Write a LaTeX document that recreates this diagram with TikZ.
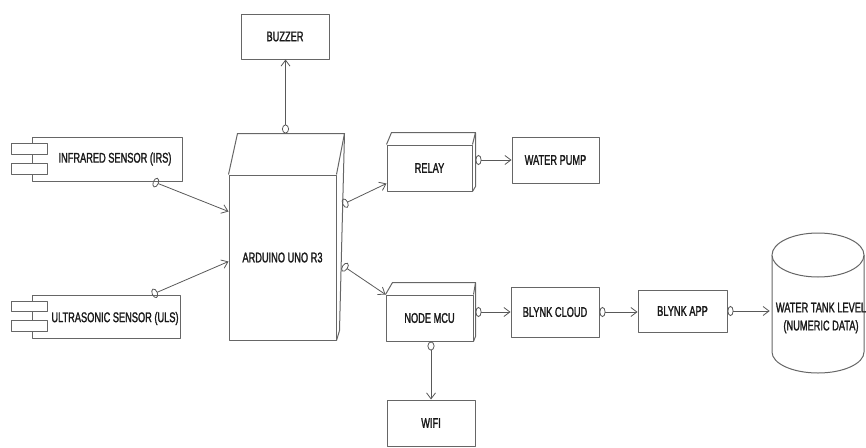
\documentclass[tikz,border=0pt]{standalone}
\usepackage{fontspec}
\setmainfont{Liberation Sans}[FakeStretch=0.66, FakeBold=1.5]
\usetikzlibrary{arrows.meta,calc}

\begin{document}
\begin{tikzpicture}[
    x=1pt, y=-1pt,
    line join=round,
    font=\fontsize{14}{18}\selectfont,
    % boxes and their extra faces
    box/.style={draw=black!60, line width=1pt, fill=white, inner sep=0pt, text=black!90},
    boxline/.style={draw=black!60, line width=1pt},
    lbl/.style={inner sep=0pt, text=black!90, align=center},
    % connectors with a lollipop at the start
    wire/.style={draw=black!65, line width=0.8pt},
    lolli/.style={wire, {Ellipse[open, length=6pt, width=10pt]}-{Straight Barb[length=6pt, width=9pt]}},
    lollivert/.style={wire, {Ellipse[open, length=9pt, width=7pt]}-{Straight Barb[length=6pt, width=9pt]}}
]

% ---------------------------------------------------------
% FRAME (pixel grid of the reference, y pointing down)
% ---------------------------------------------------------
\path [use as bounding box] (0,0) rectangle (866,447);

% ---------------------------------------------------------
% 1. SENSORS (component boxes)
% ---------------------------------------------------------
\node[box, minimum width=150pt, minimum height=44pt] (irs) at (107,159) {};
\node[lbl] (irstext) at ([xshift=8pt]irs.center) {INFRARED SENSOR (IRS)};
\draw[boxline, fill=white] ($(irs.west)+(-20,-16)$) rectangle ($(irs.west)+(16,-5)$);
\draw[boxline, fill=white] ($(irs.west)+(-20,4)$) rectangle ($(irs.west)+(16,15)$);

\node[box, minimum width=148pt, minimum height=43pt] (uls) at (106,316.5) {};
\node[lbl] (ulstext) at ([xshift=9pt, yshift=-2pt]uls.center) {ULTRASONIC SENSOR (ULS)};
\draw[boxline, fill=white] ($(uls.west)+(-20,-15.5)$) rectangle ($(uls.west)+(16,-5.5)$);
\draw[boxline, fill=white] ($(uls.west)+(-20,3.5)$) rectangle ($(uls.west)+(16,14.5)$);

% ---------------------------------------------------------
% 2. ARDUINO (pseudo-3D node)
% ---------------------------------------------------------
\node[box, minimum width=107pt, minimum height=165pt] (arduino) at (282.5,257.5) {ARDUINO UNO R3};
\draw[boxline] (arduino.north west) -- ($(arduino.north west)+(9,-41)$)
    -- ($(arduino.north east)+(8,-41)$) -- (arduino.north east);
\draw[boxline] ($(arduino.north east)+(8,-41)$) -- ($(arduino.south east)+(3,-10)$) -- (arduino.south east);
\coordinate (ardtop) at ($(arduino.north)+(3,-41)$);

\node[box, minimum width=88pt, minimum height=45pt] (buzzer) at (285,36.5) {BUZZER};

% ---------------------------------------------------------
% 3. RELAY AND NODE MCU (pseudo-3D nodes)
% ---------------------------------------------------------
\node[box, minimum width=85pt, minimum height=46pt] (relay) at (429.5,168) {RELAY};
\draw[boxline] (relay.north west) -- ($(relay.north west)+(5,-12)$)
    -- ($(relay.north east)+(3,-12)$) -- (relay.north east);
\draw[boxline] ($(relay.north east)+(3,-12)$) -- ($(relay.south east)+(3,-5)$) -- (relay.south east);

\node[box, minimum width=87pt, minimum height=46pt] (nodemcu) at (429.5,318) {NODE MCU};
\draw[boxline] (nodemcu.north west) -- ($(nodemcu.north west)+(7,-12)$)
    -- ($(nodemcu.north east)+(2,-12)$) -- (nodemcu.north east);
\draw[boxline] ($(nodemcu.north east)+(2,-12)$) -- ($(nodemcu.south east)+(2,-5)$) -- (nodemcu.south east);

% ---------------------------------------------------------
% 4. PLAIN BOXES
% ---------------------------------------------------------
\node[box, minimum width=87pt, minimum height=46pt] (pump)  at (555.5,160) {WATER PUMP};
\node[box, minimum width=88pt, minimum height=50pt] (cloud) at (555,312)   {BLYNK CLOUD};
\node[box, minimum width=88pt, minimum height=46pt] (wifi)  at (431,423)   {WIFI};
\node[box, minimum width=89pt, minimum height=42pt] (app)   at (682.5,311) {BLYNK APP};

% ---------------------------------------------------------
% 5. WATER TANK (cylinder)
% ---------------------------------------------------------
\draw[boxline, fill=white] (772,255) -- (772,352)
    arc[start angle=180, end angle=360, x radius=46pt, y radius=21pt] -- (864,255);
\draw[boxline, fill=white] (818,255) ellipse[x radius=46pt, y radius=22pt];
\node[lbl, minimum width=92pt] (tank) at (818,318) {\hspace*{6pt}WATER TANK LEVEL\\\hspace*{6pt}(NUMERIC DATA)};

% ---------------------------------------------------------
% 6. CONNECTORS
% ---------------------------------------------------------
\draw[lollivert] (ardtop) -- (ardtop |- buzzer.south);
\draw[lolli] ([xshift=46pt]irs.south) -- ([yshift=46pt]arduino.west);
\draw[lolli] ([xshift=46pt]uls.north) -- ([yshift=-4pt]arduino.west);
\draw[lolli] ([xshift=6pt, yshift=53pt]arduino.east) -- ([yshift=8pt]relay.south west);
\draw[lolli] ([xshift=6pt, yshift=-8pt]arduino.east) -- (nodemcu.north west);
\draw[lolli] ([xshift=3pt]relay.east |- pump.west) -- (pump.west);
\draw[lolli] ([xshift=2pt]nodemcu.east |- cloud.west) -- (cloud.west);
\draw[lollivert] (nodemcu.south -| wifi.north) -- (wifi.north);
\draw[lolli] (cloud.east) -- (cloud.east -| app.west);
\draw[lolli] (app.east) -- (app.east -| tank.west);

\end{tikzpicture}
\end{document}
